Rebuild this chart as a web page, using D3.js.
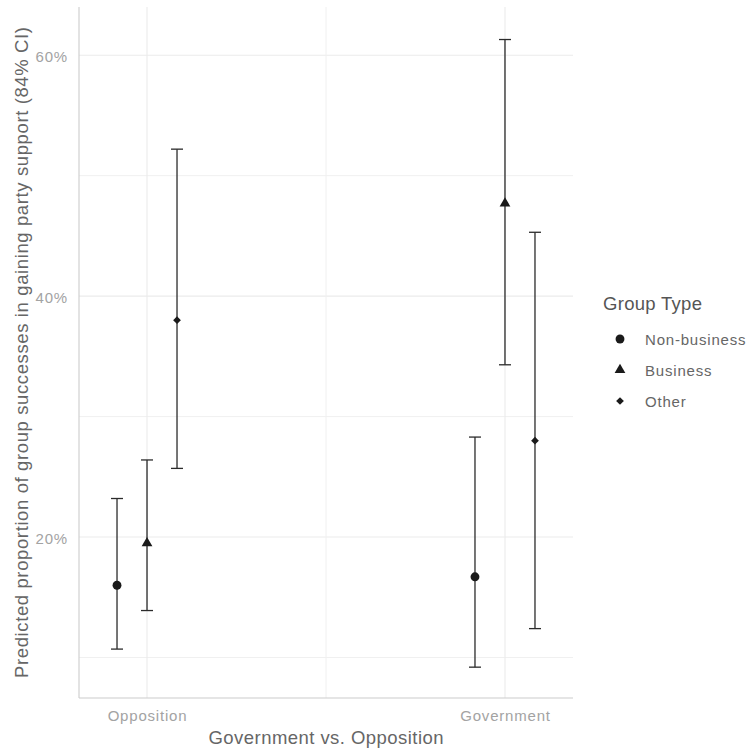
<!DOCTYPE html>
<html>
<head>
<meta charset="utf-8">
<script src="https://cdn.jsdelivr.net/npm/d3@7"></script>
<style>
  html, body { margin: 0; padding: 0; background: #fff; }
  svg { display: block; font-family: "Liberation Sans", Arial, sans-serif; }
</style>
</head>
<body>
<svg id="chart" width="751" height="756"></svg>
<script>
// Categories and group types
const positions = ["Opposition", "Government"];
const groupTypes = ["Non-business", "Business", "Other"];

// Predicted proportions (%) with 84% CI, one entry per position, ordered by group type
const estimate = {
  Opposition: [16.0, 19.5, 38.0],
  Government: [16.7, 47.7, 28.0]
};
const lower = {
  Opposition: [10.7, 13.9, 25.7],
  Government: [9.2, 34.3, 12.4]
};
const upper = {
  Opposition: [23.2, 26.4, 52.2],
  Government: [28.3, 61.3, 45.3]
};

const yTicks = [20, 40, 60];
const yMinor = [10, 30, 50];

const rows = [];
positions.forEach(p => groupTypes.forEach((g, i) => {
  rows.push({ pos: p, group: g, est: estimate[p][i], lo: lower[p][i], hi: upper[p][i] });
}));

const svg = d3.select("#chart");
const margin = { left: 79, right: 178, top: 7, bottom: 58 };
const W = 751, H = 756;
const x0 = margin.left, x1 = W - margin.right;
const y0 = H - margin.bottom, y1 = margin.top;

const y = d3.scaleLinear().domain([6.64, 64.0]).range([y0, y1]);
const x = d3.scalePoint().domain(positions).range([x0, x1]).padding(0.19);
const dodge = d3.scalePoint().domain(groupTypes).range([-30, 30]);

// Grid
const grid = svg.append("g");
yMinor.forEach(v => grid.append("line")
  .attr("x1", x0).attr("x2", x1).attr("y1", y(v)).attr("y2", y(v))
  .attr("stroke", "#f0f0f0").attr("stroke-width", 1));
yTicks.forEach(v => grid.append("line")
  .attr("x1", x0).attr("x2", x1).attr("y1", y(v)).attr("y2", y(v))
  .attr("stroke", "#ebebeb").attr("stroke-width", 1.1));
const xMid = (x(positions[0]) + x(positions[1])) / 2;
grid.append("line").attr("x1", xMid).attr("x2", xMid).attr("y1", y0).attr("y2", y1)
  .attr("stroke", "#f0f0f0").attr("stroke-width", 1);
positions.forEach(p => grid.append("line")
  .attr("x1", x(p)).attr("x2", x(p)).attr("y1", y0).attr("y2", y1)
  .attr("stroke", "#ebebeb").attr("stroke-width", 1.1));

// Axis lines
svg.append("line").attr("x1", x0).attr("x2", x0).attr("y1", y1).attr("y2", y0)
  .attr("stroke", "#cccccc").attr("stroke-width", 1.1);
svg.append("line").attr("x1", x0).attr("x2", x1).attr("y1", y0).attr("y2", y0)
  .attr("stroke", "#cccccc").attr("stroke-width", 1.1);

// Y axis labels
const yAxis = d3.axisLeft(y).tickValues(yTicks).tickSize(0).tickPadding(11)
  .tickFormat(d => d + "%");
const gy = svg.append("g").attr("transform", `translate(${x0},0)`).call(yAxis);
gy.select(".domain").remove();
gy.selectAll("text").attr("fill", "#a3a3a3").attr("dy", "0.45em")
  .style("font-size", "15px").style("letter-spacing", "0.8px");

// X axis labels
const xAxis = d3.axisBottom(x).tickSize(0).tickPadding(12);
const gx = svg.append("g").attr("transform", `translate(0,${y0})`).call(xAxis);
gx.select(".domain").remove();
gx.selectAll("text").attr("fill", "#a3a3a3")
  .style("font-size", "15px").style("letter-spacing", "0.8px");

// Axis titles
svg.append("text").attr("x", (x0 + x1) / 2).attr("y", 744)
  .attr("text-anchor", "middle").attr("fill", "#666").style("font-size", "18.5px")
  .attr("textLength", 235).attr("lengthAdjust", "spacing")
  .text("Government vs. Opposition");
svg.append("text").attr("transform", `translate(28,${(y0 + y1) / 2}) rotate(-90)`)
  .attr("text-anchor", "middle").attr("fill", "#666").style("font-size", "18.5px")
  .attr("textLength", 651).attr("lengthAdjust", "spacing")
  .text("Predicted proportion of group successes in gaining party support (84% CI)");

// Error bars
const capHalf = 6;
const bars = svg.append("g").attr("stroke", "#2b2b2b").attr("stroke-width", 1.3);
rows.forEach(r => {
  const cx = x(r.pos) + dodge(r.group);
  bars.append("line").attr("x1", cx).attr("x2", cx).attr("y1", y(r.lo)).attr("y2", y(r.hi));
  bars.append("line").attr("x1", cx - capHalf).attr("x2", cx + capHalf).attr("y1", y(r.lo)).attr("y2", y(r.lo));
  bars.append("line").attr("x1", cx - capHalf).attr("x2", cx + capHalf).attr("y1", y(r.hi)).attr("y2", y(r.hi));
});

// Point shapes per group type
const shape = d3.scaleOrdinal().domain(groupTypes)
  .range([d3.symbolCircle, d3.symbolTriangle, d3.symbolDiamond2]);
const size = d3.scaleOrdinal().domain(groupTypes).range([62, 50, 38]);

svg.append("g").selectAll("path").data(rows).join("path")
  .attr("transform", d => `translate(${x(d.pos) + dodge(d.group)},${y(d.est)})`)
  .attr("d", d => d3.symbol().type(shape(d.group)).size(size(d.group))())
  .attr("fill", "#1a1a1a");

// Legend
const lg = svg.append("g").attr("transform", "translate(603,0)");
lg.append("text").attr("x", 0).attr("y", 310).attr("fill", "#555")
  .style("font-size", "18.5px").attr("textLength", 99).attr("lengthAdjust", "spacing")
  .text("Group Type");
groupTypes.forEach((g, i) => {
  const cy = 339 + i * 31;
  lg.append("path").attr("transform", `translate(17,${cy})`)
    .attr("d", d3.symbol().type(shape(g)).size(size(g))())
    .attr("fill", "#1a1a1a");
  lg.append("text").attr("x", 42).attr("y", cy + 6).attr("fill", "#666")
    .style("font-size", "15px").style("letter-spacing", "0.8px").text(g);
});
</script>
</body>
</html>
